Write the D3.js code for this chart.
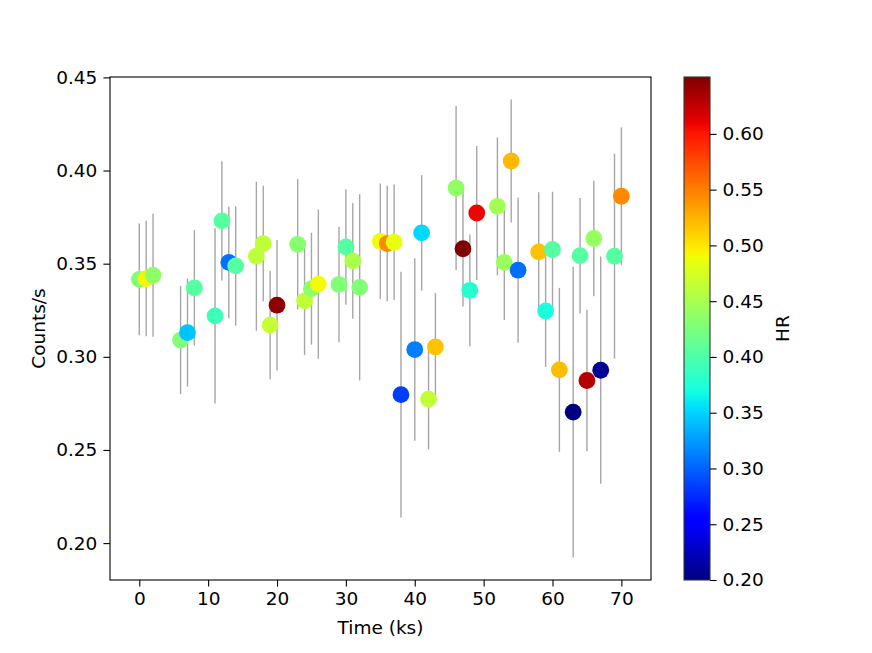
<!DOCTYPE html>
<html>
<head>
<meta charset="utf-8">
<script src="https://cdn.jsdelivr.net/npm/d3@7"></script>
<style>
  body { margin: 0; background: #fff; }
  text { font-family: "DejaVu Sans", sans-serif; fill: #000; }
</style>
</head>
<body>
<div id="chart"></div>
<script>
// light curve data: time (ks), count rate, 1-sigma error, hardness ratio
var time = [0, 1, 2, 6, 7, 8, 11, 12, 13, 14, 17, 18, 19, 20, 23, 24, 25, 26, 29, 30, 31, 32,
            35, 36, 37, 38, 40, 41, 42, 43, 46, 47, 48, 49, 52, 53, 54, 55, 58, 59, 60, 61,
            63, 64, 65, 66, 67, 69, 70]
var rate = [0.3416, 0.342, 0.3438, 0.309, 0.313, 0.337, 0.322, 0.373, 0.3507, 0.3488, 0.354, 0.3608, 0.317, 0.3277, 0.3604, 0.330, 0.3366, 0.339, 0.3388, 0.359, 0.3515, 0.3373,
            0.362, 0.3608, 0.3615, 0.2797, 0.3039, 0.3665, 0.2773, 0.3053, 0.3906, 0.358, 0.3357, 0.3772, 0.3808, 0.3507, 0.4051, 0.3465, 0.3563, 0.3246, 0.3576, 0.293,
            0.2703, 0.3543, 0.2873, 0.3635, 0.2928, 0.354, 0.3862]
var rateErr = [0.030, 0.031, 0.033, 0.029, 0.029, 0.031, 0.047, 0.032, 0.030, 0.032, 0.040, 0.031, 0.029, 0.035, 0.035, 0.029, 0.030, 0.040, 0.031, 0.031, 0.031, 0.050,
               0.031, 0.031, 0.031, 0.066, 0.049, 0.031, 0.027, 0.029, 0.044, 0.031, 0.030, 0.036, 0.037, 0.031, 0.033, 0.039, 0.032, 0.030, 0.031, 0.044,
               0.078, 0.031, 0.038, 0.031, 0.061, 0.055, 0.037]
var hr = [0.428, 0.492, 0.437, 0.428, 0.343, 0.405, 0.392, 0.405, 0.307, 0.405, 0.462, 0.462, 0.465, 0.645, 0.432, 0.463, 0.435, 0.490, 0.428, 0.405, 0.452, 0.428,
          0.490, 0.545, 0.485, 0.284, 0.312, 0.352, 0.463, 0.518, 0.437, 0.650, 0.380, 0.608, 0.447, 0.443, 0.522, 0.305, 0.518, 0.373, 0.405, 0.520,
          0.200, 0.405, 0.630, 0.440, 0.208, 0.405, 0.545]

var xTicks = [0, 10, 20, 30, 40, 50, 60, 70]
var yTicks = [0.20, 0.25, 0.30, 0.35, 0.40, 0.45]
var cbTicks = [0.20, 0.25, 0.30, 0.35, 0.40, 0.45, 0.50, 0.55, 0.60]

var width = 872, height = 653
var plotLeft = 110, plotRight = 651, plotTop = 77, plotBottom = 580
var fontSize = 18.5

// matplotlib "jet" colormap, channel by channel
var jetR = d3.scaleLinear().domain([0, 0.35, 0.66, 0.89, 1]).range([0, 0, 1, 1, 0.5]).clamp(true)
var jetG = d3.scaleLinear().domain([0, 0.125, 0.375, 0.64, 0.91, 1]).range([0, 0, 1, 1, 0, 0]).clamp(true)
var jetB = d3.scaleLinear().domain([0, 0.11, 0.34, 0.65, 1]).range([0.5, 1, 1, 0, 0]).clamp(true)
function jet(t) {
  return d3.rgb(jetR(t) * 255, jetG(t) * 255, jetB(t) * 255).formatHex()
}
var hrMin = 0.20, hrMax = 0.651
var hrNorm = d3.scaleLinear().domain([hrMin, hrMax]).range([0, 1]).clamp(true)

var x = d3.scaleLinear().domain([-4.25, 74.3]).range([plotLeft, plotRight])
var y = d3.scaleLinear().domain([0.1802, 0.4502]).range([plotBottom, plotTop])

var svg = d3.select("#chart").append("svg")
  .attr("width", width)
  .attr("height", height)

var data = time.map(function(t, i) {
  return { t: t, v: rate[i], e: rateErr[i], hr: hr[i] }
})

// error bars first, then the markers on top
svg.append("g")
  .selectAll("line")
  .data(data)
  .enter()
  .append("line")
    .attr("x1", function(d) { return x(d.t) })
    .attr("x2", function(d) { return x(d.t) })
    .attr("y1", function(d) { return y(d.v - d.e) })
    .attr("y2", function(d) { return y(d.v + d.e) })
    .attr("stroke", "#a6a6a6")
    .attr("stroke-width", 1.4)

svg.append("g")
  .selectAll("circle")
  .data(data)
  .enter()
  .append("circle")
    .attr("cx", function(d) { return x(d.t) })
    .attr("cy", function(d) { return y(d.v) })
    .attr("r", 8.4)
    .attr("fill", function(d) { return jet(hrNorm(d.hr)) })

// axes
var xAxis = svg.append("g")
  .attr("transform", "translate(0," + plotBottom + ")")
  .call(d3.axisBottom(x).tickValues(xTicks).tickFormat(d3.format("d")).tickSizeOuter(0).tickSize(6.6).tickPadding(5))
var yAxis = svg.append("g")
  .attr("transform", "translate(" + plotLeft + ",0)")
  .call(d3.axisLeft(y).tickValues(yTicks).tickFormat(d3.format(".2f")).tickSizeOuter(0).tickSize(6.6).tickPadding(6))

;[xAxis, yAxis].forEach(function(a) {
  a.select(".domain").remove()
  a.selectAll("line").attr("stroke", "#000").attr("stroke-width", 1.1)
  a.selectAll("text").attr("font-size", fontSize).attr("font-family", "DejaVu Sans")
})

// frame
svg.append("rect")
  .attr("x", plotLeft).attr("y", plotTop)
  .attr("width", plotRight - plotLeft).attr("height", plotBottom - plotTop)
  .attr("fill", "none").attr("stroke", "#000").attr("stroke-width", 1.1)

svg.append("text")
  .attr("x", (plotLeft + plotRight) / 2)
  .attr("y", 634)
  .attr("text-anchor", "middle")
  .attr("font-size", fontSize)
  .text("Time (ks)")

svg.append("text")
  .attr("transform", "translate(45," + (plotTop + plotBottom) / 2 + ") rotate(-90)")
  .attr("text-anchor", "middle")
  .attr("font-size", fontSize)
  .text("Counts/s")

// colorbar
var cbLeft = 684, cbRight = 710
var cb = d3.scaleLinear().domain([hrMin, hrMax]).range([plotBottom, plotTop])

var grad = svg.append("defs").append("linearGradient")
  .attr("id", "jetgrad")
  .attr("x1", 0).attr("y1", 1).attr("x2", 0).attr("y2", 0)
grad.selectAll("stop")
  .data(d3.range(0, 1.0001, 0.01))
  .enter()
  .append("stop")
    .attr("offset", function(d) { return d })
    .attr("stop-color", function(d) { return jet(d) })

svg.append("rect")
  .attr("x", cbLeft).attr("y", plotTop)
  .attr("width", cbRight - cbLeft).attr("height", plotBottom - plotTop)
  .attr("fill", "url(#jetgrad)")
  .attr("stroke", "#333").attr("stroke-width", 1.1)

var cbAxis = svg.append("g")
  .attr("transform", "translate(" + cbRight + ",0)")
  .call(d3.axisRight(cb).tickValues(cbTicks).tickFormat(d3.format(".2f")).tickSizeOuter(0).tickSize(6.6).tickPadding(6))
cbAxis.select(".domain").remove()
cbAxis.selectAll("line").attr("stroke", "#000").attr("stroke-width", 1.1)
cbAxis.selectAll("text").attr("font-size", fontSize).attr("font-family", "DejaVu Sans")

svg.append("text")
  .attr("transform", "translate(789," + (plotTop + plotBottom) / 2 + ") rotate(-90)")
  .attr("text-anchor", "middle")
  .attr("font-size", fontSize)
  .text("HR")
</script>
</body>
</html>
